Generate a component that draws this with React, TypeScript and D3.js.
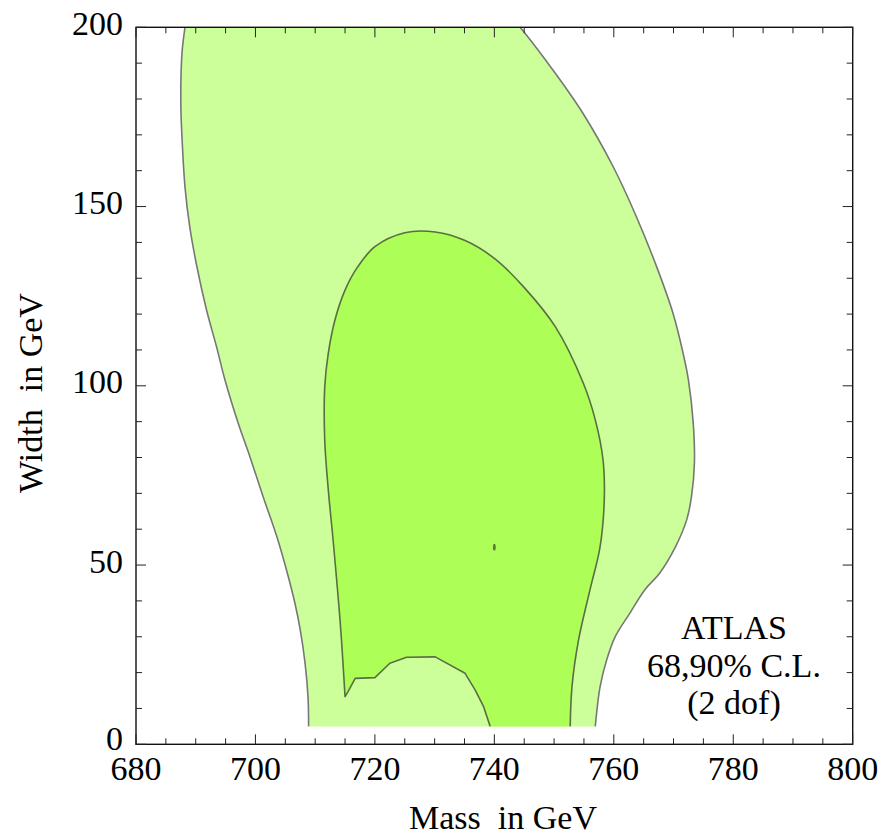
import React from "react";
import * as d3 from "d3";

// Confidence contours in the (mass, width) plane, as [mass GeV, width GeV]
const outer90Left: [number, number][] = [
  [708.9, 5], [708.8, 13.2], [708.3, 22.7], [707.5, 31.9], [706.6, 39.4],
  [705.2, 48.6], [703.6, 57.8], [701.3, 69.0], [699.1, 80.1], [697.1, 89.6],
  [694.9, 101.6], [693.5, 110.8], [691.8, 121.2], [690.2, 133.2], [689.0, 144.3],
  [688.2, 155.5], [687.7, 169.4], [687.5, 178.9], [687.7, 192.8], [688.2, 200],
];

const outer90Right: [number, number][] = [
  [744.3, 200], [745.4, 197.8], [749.8, 188.1], [754.8, 176.1], [759.9, 161.1],
  [763.8, 147.1], [767.2, 133.1], [769.9, 120.3], [771.6, 109.1], [772.5, 101.6],
  [773.3, 89.6], [773.5, 78.5], [773.0, 69.0], [772.2, 62.6], [770.3, 55.0],
  [767.7, 47.8], [765.2, 43.1], [762.7, 36.6], [760.2, 29.9], [758.8, 23.5],
  [757.7, 16.0], [756.9, 5],
];

// 68% contour: the low-width notch (polygonal) followed by the smooth main loop
const inner68Notch: [number, number][] = [
  [739.3, 5], [738.2, 10.5], [736.8, 15.1], [735.1, 19.8], [730.1, 24.4],
  [725.3, 24.3], [722.5, 22.6], [720.0, 18.6], [716.7, 18.4], [715.5, 14.7],
  [715.0, 13.3],
];

const inner68Loop: [number, number][] = [
  [715.0, 13.3], [714.2, 33.8], [713.0, 57.0], [712.2, 70.9], [711.6, 84.9],
  [711.6, 99.7], [712.2, 109.1], [713.3, 118.3], [715.0, 126.7], [717.0, 132.9],
  [720.0, 138.8], [725.0, 142.7], [730.1, 142.9], [735.1, 140.5], [740.1, 135.4],
  [744.9, 127.6], [750.2, 116.5], [754.9, 100.7], [756.9, 90.5], [758.2, 79.3],
  [758.4, 68.1], [757.7, 55.1], [756.0, 43.0], [754.1, 29.1], [753.0, 16.1],
  [752.7, 5],
];

const bestFit: [number, number] = [740, 55];

const xMajorTicks = [680, 700, 720, 740, 760, 780, 800];
const yMajorTicks = [0, 50, 100, 150, 200];
const annotationLines = ["ATLAS", "68,90% C.L.", "(2 dof)"];

const W = 885;
const H = 839;
const plot = { left: 136, right: 852.7, top: 27.3, bottom: 744.3 };
const FONT = "'Liberation Serif', 'Times New Roman', Times, serif";

export default function App() {
  const x = d3.scaleLinear().domain([680, 800]).range([plot.left, plot.right]);
  const y = d3.scaleLinear().domain([0, 200]).range([plot.bottom, plot.top]);

  const smooth = d3
    .line<[number, number]>()
    .x((d) => x(d[0]))
    .y((d) => y(d[1]))
    .curve(d3.curveCatmullRom.alpha(0.5));
  const straight = d3
    .line<[number, number]>()
    .x((d) => x(d[0]))
    .y((d) => y(d[1]));

  // 90% region: left edge up, across the top, right edge down, closed along the bottom cut
  const outerFill = smooth(outer90Left)! + "L" + smooth(outer90Right)!.slice(1) + "Z";
  const innerLine = straight(inner68Notch)! + "L" + smooth(inner68Loop)!.slice(1);
  const innerFill = innerLine + "Z";

  const xMinor = d3.range(680, 800.01, 5).filter((v) => !xMajorTicks.includes(v));
  const yMinor = d3.range(0, 200.01, 10).filter((v) => !yMajorTicks.includes(v));

  const major = 10;
  const minor = 6;
  const tickColor = "#222";

  return (
    <svg
      width={W}
      height={H}
      style={{ position: "absolute", left: 0, top: 0, background: "#fff" }}
      fontFamily={FONT}
    >
      <defs>
        <clipPath id="plotArea">
          <rect x={plot.left} y={plot.top} width={plot.right - plot.left} height={plot.bottom - plot.top} />
        </clipPath>
      </defs>

      <g clipPath="url(#plotArea)">
        <path d={outerFill} fill="#ccff99" stroke="none" />
        <path d={smooth(outer90Left)!} fill="none" stroke="#777" strokeWidth={1.6} />
        <path d={smooth(outer90Right)!} fill="none" stroke="#777" strokeWidth={1.6} />
        <path d={innerFill} fill="#adff57" stroke="none" />
        <path d={innerLine} fill="none" stroke="#5a6e44" strokeWidth={1.6} strokeLinejoin="round" />
        <ellipse cx={x(bestFit[0])} cy={y(bestFit[1])} rx={1.4} ry={3.4} fill="#5a7a3a" />
      </g>

      {/* frame */}
      <rect
        x={plot.left}
        y={plot.top}
        width={plot.right - plot.left}
        height={plot.bottom - plot.top}
        fill="none"
        stroke="#111"
        strokeWidth={1.4}
      />

      {/* x ticks, bottom and top, pointing inward */}
      {xMajorTicks.map((v) => (
        <g key={"xm" + v}>
          <line x1={x(v)} x2={x(v)} y1={plot.bottom} y2={plot.bottom - major} stroke={tickColor} strokeWidth={1} />
          <line x1={x(v)} x2={x(v)} y1={plot.top} y2={plot.top + major} stroke={tickColor} strokeWidth={1} />
          <text x={x(v)} y={plot.bottom + 35.5} fontSize={34} textAnchor="middle" fill="#000">
            {v}
          </text>
        </g>
      ))}
      {xMinor.map((v) => (
        <g key={"xn" + v}>
          <line x1={x(v)} x2={x(v)} y1={plot.bottom} y2={plot.bottom - minor} stroke={tickColor} strokeWidth={1} />
          <line x1={x(v)} x2={x(v)} y1={plot.top} y2={plot.top + minor} stroke={tickColor} strokeWidth={1} />
        </g>
      ))}

      {/* y ticks, left and right, pointing inward */}
      {yMajorTicks.map((v) => (
        <g key={"ym" + v}>
          <line x1={plot.left} x2={plot.left + major} y1={y(v)} y2={y(v)} stroke={tickColor} strokeWidth={1} />
          <line x1={plot.right} x2={plot.right - major} y1={y(v)} y2={y(v)} stroke={tickColor} strokeWidth={1} />
          <text x={plot.left - 13} y={y(v) + (v === 0 ? 6 : 7.5)} fontSize={34} textAnchor="end" fill="#000">
            {v}
          </text>
        </g>
      ))}
      {yMinor.map((v) => (
        <g key={"yn" + v}>
          <line x1={plot.left} x2={plot.left + minor} y1={y(v)} y2={y(v)} stroke={tickColor} strokeWidth={1} />
          <line x1={plot.right} x2={plot.right - minor} y1={y(v)} y2={y(v)} stroke={tickColor} strokeWidth={1} />
        </g>
      ))}

      {/* axis titles */}
      <text x={503} y={829} fontSize={34} textAnchor="middle" fill="#000" style={{ whiteSpace: "pre" }}>
        {"Mass  in GeV"}
      </text>
      <text
        transform={`translate(42, 393) rotate(-90)`}
        fontSize={34}
        textAnchor="middle"
        fill="#000"
        style={{ whiteSpace: "pre" }}
      >
        {"Width  in GeV"}
      </text>

      {/* annotation */}
      {annotationLines.map((t, i) => (
        <text key={t} x={734} y={639.3 + i * 37.5} fontSize={34} textAnchor="middle" fill="#000">
          {t}
        </text>
      ))}
    </svg>
  );
}
